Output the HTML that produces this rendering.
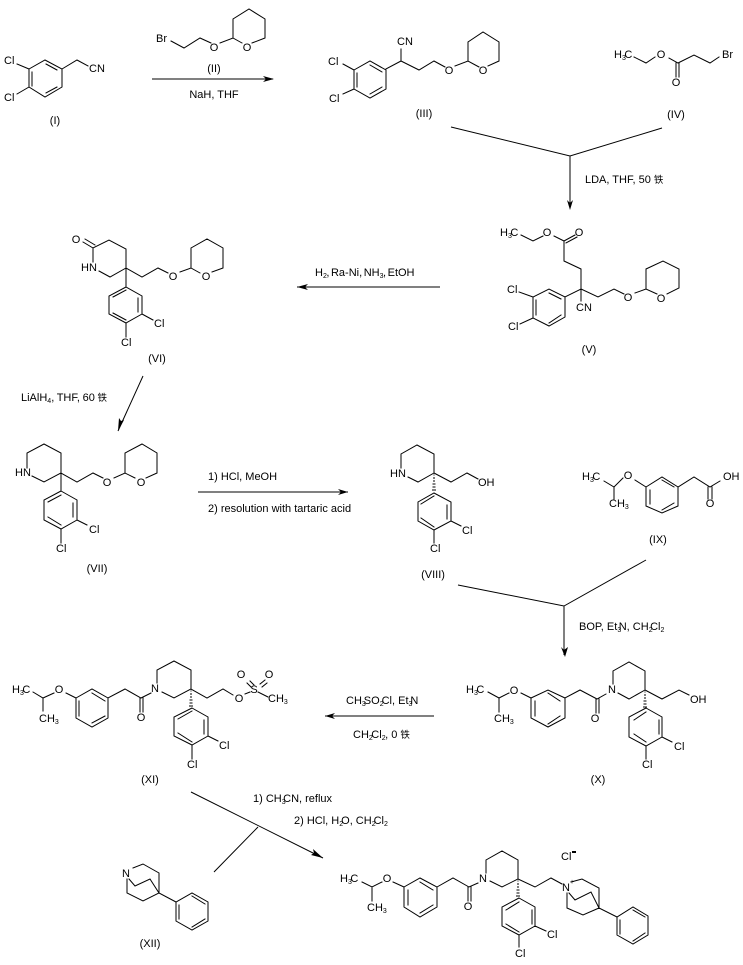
<!DOCTYPE html>
<html><head><meta charset="utf-8"><style>
html,body{margin:0;padding:0;background:#fff}
svg{display:block}
text{font-family:"Liberation Sans","Noto Sans CJK SC",sans-serif;font-size:11px;fill:#000}
.s{font-size:7px}
.c{font-size:9.5px}
</style></head><body>
<svg width="743" height="965" viewBox="0 0 743 965" xmlns="http://www.w3.org/2000/svg">
<rect width="743" height="965" fill="#fff"/>
<g fill="none" stroke="#000" stroke-width="1" stroke-linecap="square">
<!-- I -->
<path d="M29 69L45 60L62 69V87L45 97L29 87ZM32 72V86M46 64L57 70M46 93L57 87M17 64L29 69M17 94L29 87M62 69L77 60L88 66"/>
<!-- II -->
<path d="M171 41L184 48L200 38L211 43M220 43L233 38L242 43M252 43L265 38V19L249 9L233 19V38"/>
<!-- III -->
<path d="M354 70L370 61L386 70V89L370 98L354 89ZM357 73V87M370 65L382 72M370 94L382 87M343 64L354 70M343 94L354 89M386 69L401 61L419 70L434 61L445 67M401 49V61M455 66L468 61L479 67M488 66L499 61V42L483 32L468 42V61"/>
<!-- IV -->
<path d="M634 57L646 63L655 57M669 58L678 63L694 55L710 63L719 57M676 63V77M679 63V77"/>
<!-- V -->
<path d="M521 235L533 241L543 236M554 236L564 241L575 235M566 243L577 237M564 241V261L581 269V289M581 289L565 297L549 289L533 297V318L549 326L565 317V297M536 300V315M549 293L561 299M549 323L561 315M519 292L533 297M520 324L533 318M581 289V301M581 289L598 297L614 289L624 294M635 293L646 289L657 294M667 294L679 288V269L663 261L646 269V289"/>
<!-- VI -->
<path d="M83 242L93 248M85 239L95 245M93 248L109 240L126 249V268L110 277L99 271M93 248V262M126 268L142 277L158 268L168 273M180 272L191 268L200 273M212 272L223 268V248L207 239L191 248V268M126 268V287M126 287L142 296V314L126 323L109 314V296ZM138 298V312M126 290L113 297M126 320L113 313M142 314L153 320M126 323V337"/>
<!-- VII -->
<path d="M27 468V453L44 444L61 453V473L44 482L32 476M61 473L77 482L93 473L103 478M114 478L125 473L135 478M146 478L157 473V453L142 444L125 453V473M61 473V491M61 491L77 500V520L61 529L44 520V500ZM73 503V517M61 495L48 502M61 525L48 517M77 520L87 525M61 529V543"/>
<!-- VIII -->
<path d="M401 468V454L417 445L434 454V473L418 482L408 477M434 473L451 482L467 473L478 479M434 493L451 502V521L434 530L418 521V502ZM447 505V519M434 496L421 504M434 527L421 518M451 521L461 526M434 530V543"/>
<path stroke-linecap="butt" d="M433.5 475h1M433 478h2M433 481h2M432.5 484h3M432.5 487h3M432 490h4"/>
<!-- IX -->
<path d="M604 481L614 487L623 478M614 487V499M635 480L646 487M646 487L662 477L678 487V506L662 513L646 506ZM650 490V504M662 480L674 487M662 510L674 503M678 487L694 477L710 487L720 481M708 487V499M712 487V499"/>
<!-- X -->
<path d="M488 692L499 698L509 693M499 698V712M521 693L531 698M531 698L548 690L565 698V718L548 727L531 718ZM535 701V716M548 693L560 701M548 724L560 716M565 698L580 690L597 699L606 694M596 699V713M599 699V713M613 684V671L629 662L645 671V690L629 699L618 693M645 690L662 699L679 690L689 695M646 708L662 717V737L646 746L629 737V717ZM659 720V734M646 712L634 720M646 742L634 734M662 737L672 742M646 746V759"/>
<path stroke-linecap="butt" d="M644.5 692h1M644 695h2M644 698h2M643.5 701h3M643.5 704h3M643 707h4"/>
<!-- XI -->
<path d="M33 692L43 698L54 693M43 698V711M66 693L76 698M76 698L92 689L108 698V718L92 727L76 718ZM79 701V716M92 693L105 701M92 723L105 716M108 698L125 689L141 698L151 693M140 698V712M143 698V712M157 683V670L174 661L191 670V689L174 698L162 692M191 689L207 698L223 689L233 695M245 694L250 692M258 692L268 697M247 683L251 687M250 681L254 685M260 684L265 680M262 687L267 683M192 708L208 717V736L192 745L174 736V717ZM204 720V734M192 711L178 719M192 742L178 733M208 736L218 741M192 745V759"/>
<path stroke-linecap="butt" d="M190.5 691h1M190 694h2M190 697h2M189.5 700h3M189.5 703h3M189 706h4"/>
<!-- XII -->
<path d="M133 868L143 864L159 873V893L143 901L127 893V879M129 879L135 886L150 879L159 893L176 902L192 893L208 902V921L192 930L176 921V902M179 905V919M192 896L205 904M192 927L205 919"/>
<!-- Final -->
<path d="M362 882L372 887L382 882M372 887V901M393 882L404 887M404 887L420 878L437 887V907L420 917L404 907ZM408 890V905M420 882L433 890M420 913L433 905M437 887L453 878L469 887L478 883M468 887V901M471 887V901M486 873V860L502 851L518 860V879L502 887L490 881M518 879L535 887L551 878L562 884M571 882L582 879L599 888V908L583 915L567 908V893M569 893L575 900L591 892L599 908L617 917L633 907L648 916V935L633 944L617 935V917M620 920V934M633 910L645 917M633 941L645 933M519 898L535 907V926L519 935L502 926V907ZM532 910V924M519 902L506 910M519 932L506 924M535 926L546 931M519 935V947"/>
<path stroke-linecap="butt" d="M517.5 881h1M517 884h2M517 887h2M516.5 890h3M516.5 893h3M516 896h4"/>
<!-- Arrows -->
<path stroke-linecap="butt" d="M152 79H273M451 127L570 156L662 128M570 156V208M440 287H297M143 376L118 431M198 492H348M458 585L564 606L646 560M564 606V655M434 716H325M191 792L323 858M258 827L214 872"/>
</g>
<g fill="#000">
<path d="M263 76L274 79L263 82L266 79Z"/>
<path d="M567 200L570 210L573 200L570 203Z"/>
<path d="M308 284L297 287L308 290L305 287Z"/>
<path d="M124 420L118 431L119 418L121 421Z"/>
<path d="M338 489L348 492L338 495L341 492Z"/>
<path d="M561 647L565 657L568 647L564 650Z"/>
<path d="M335 713L325 716L335 719L332 716Z"/>
<path d="M313 849L323 858L311 855L314 853Z"/>
<rect x="572" y="851" width="4" height="2"/>
</g>
<!-- I -->
<text x="4" y="64">Cl</text><text x="4" y="101">Cl</text><text x="89" y="72">CN</text><text x="55" y="124" text-anchor="middle">(I)</text>
<!-- II -->
<text x="156" y="42">Br</text><text x="214" y="51" text-anchor="middle">O</text><text x="247" y="51" text-anchor="middle">O</text><text x="214" y="72" text-anchor="middle">(II)</text>
<text x="214" y="98" text-anchor="middle">NaH, THF</text>
<!-- III -->
<text x="328" y="65">Cl</text><text x="329" y="102">Cl</text><text x="397" y="45">CN</text><text x="449" y="74" text-anchor="middle">O</text><text x="483" y="74" text-anchor="middle">O</text><text x="424" y="117" text-anchor="middle">(III)</text>
<!-- IV -->
<text x="614" y="58">H<tspan class="s" dy="2">3</tspan><tspan dy="-2" dx="-1.5">C</tspan></text><text x="661" y="58" text-anchor="middle">O</text><text x="722" y="58">Br</text><text x="676" y="86" text-anchor="middle">O</text><text x="676" y="118" text-anchor="middle">(IV)</text>
<text x="585" y="183">LDA, THF, 50 <tspan class="c">铁</tspan></text>
<!-- V -->
<text x="500" y="236">H<tspan class="s" dy="2">3</tspan><tspan dy="-2" dx="-1.5">C</tspan></text><text x="547" y="236" text-anchor="middle">O</text><text x="579" y="236" text-anchor="middle">O</text><text x="507" y="293">Cl</text><text x="508" y="330">Cl</text><text x="576" y="311">CN</text><text x="628" y="301" text-anchor="middle">O</text><text x="661" y="302" text-anchor="middle">O</text><text x="589" y="353" text-anchor="middle">(V)</text>
<text x="315" y="276" word-spacing="-1.5">H<tspan class="s" dy="2">2</tspan><tspan dy="-2" dx="-0.5">, Ra-Ni, NH</tspan><tspan class="s" dy="2">3</tspan><tspan dy="-2" dx="-0.5">, EtOH</tspan></text>
<!-- VI -->
<text x="76" y="243" text-anchor="middle">O</text><text x="81" y="271">HN</text><text x="173" y="280" text-anchor="middle">O</text><text x="206" y="280" text-anchor="middle">O</text><text x="154" y="327">Cl</text><text x="121" y="346">Cl</text><text x="157" y="362" text-anchor="middle">(VI)</text>
<text x="21" y="401" word-spacing="-0.4">LiAlH<tspan class="s" dy="2">4</tspan><tspan dy="-2">, THF, 60 </tspan><tspan class="c">铁</tspan></text>
<!-- VII -->
<text x="15" y="476">HN</text><text x="107" y="486" text-anchor="middle">O</text><text x="141" y="486" text-anchor="middle">O</text><text x="89" y="533">Cl</text><text x="56" y="552">Cl</text><text x="97" y="572" text-anchor="middle">(VII)</text>
<text x="208" y="480">1) HCl, MeOH</text><text x="208" y="512">2) resolution with tartaric acid</text>
<!-- VIII -->
<text x="390" y="477">HN</text><text x="478" y="486">OH</text><text x="462" y="534">Cl</text><text x="430" y="552">Cl</text><text x="433" y="578" text-anchor="middle">(VIII)</text>
<!-- IX -->
<text x="582" y="480">H<tspan class="s" dy="2">3</tspan><tspan dy="-2" dx="-1.5">C</tspan></text><text x="628" y="479" text-anchor="middle">O</text><text x="609" y="507">CH<tspan class="s" dy="2">3</tspan></text><text x="723" y="480">OH</text><text x="710" y="507" text-anchor="middle">O</text><text x="658" y="543" text-anchor="middle">(IX)</text>
<text x="579" y="630">BOP, Et<tspan class="s" dy="2">3</tspan><tspan dy="-2" dx="-2.5">N, CH</tspan><tspan class="s" dy="2">2</tspan><tspan dy="-2" dx="-2.5">Cl</tspan><tspan class="s" dy="2">2</tspan></text>
<!-- X -->
<text x="466" y="693">H<tspan class="s" dy="2">3</tspan><tspan dy="-2" dx="-1.5">C</tspan></text><text x="514" y="694" text-anchor="middle">O</text><text x="494" y="722">CH<tspan class="s" dy="2">3</tspan></text><text x="612" y="693" text-anchor="middle">N</text><text x="595" y="722" text-anchor="middle">O</text><text x="690" y="703">OH</text><text x="674" y="750">Cl</text><text x="642" y="768">Cl</text><text x="598" y="783" text-anchor="middle">(X)</text>
<text x="346" y="704">CH<tspan class="s" dy="2">3</tspan><tspan dy="-2" dx="-2">SO</tspan><tspan class="s" dy="2">2</tspan><tspan dy="-2" dx="-2">Cl, Et</tspan><tspan class="s" dy="2">3</tspan><tspan dy="-2" dx="-2">N</tspan></text>
<text x="353" y="738">CH<tspan class="s" dy="2">2</tspan><tspan dy="-2" dx="-1.5">Cl</tspan><tspan class="s" dy="2">2</tspan><tspan dy="-2" dx="-0.5">, 0 </tspan><tspan class="c">铁</tspan></text>
<!-- XI -->
<text x="12" y="693">H<tspan class="s" dy="2">3</tspan><tspan dy="-2" dx="-1.5">C</tspan></text><text x="59" y="693" text-anchor="middle">O</text><text x="39" y="722">CH<tspan class="s" dy="2">3</tspan></text><text x="155" y="692" text-anchor="middle">N</text><text x="141" y="721" text-anchor="middle">O</text><text x="239" y="702" text-anchor="middle">O</text><text x="254" y="693" text-anchor="middle">S</text><text x="241" y="678" text-anchor="middle">O</text><text x="269" y="678" text-anchor="middle">O</text><text x="268" y="702">CH<tspan class="s" dy="2">3</tspan></text><text x="219" y="749">Cl</text><text x="187" y="768">Cl</text><text x="150" y="783" text-anchor="middle">(XI)</text>
<text x="253" y="802">1) CH<tspan class="s" dy="2">3</tspan><tspan dy="-2" dx="-2.5">CN, reflux</tspan></text>
<text x="294" y="824">2) HCl, H<tspan class="s" dy="2">2</tspan><tspan dy="-2" dx="-2">O, CH</tspan><tspan class="s" dy="2">2</tspan><tspan dy="-2" dx="-2">Cl</tspan><tspan class="s" dy="2">2</tspan></text>
<!-- XII -->
<text x="126" y="877" text-anchor="middle">N</text><text x="150" y="947" text-anchor="middle">(XII)</text>
<!-- Final -->
<text x="340" y="882">H<tspan class="s" dy="2">3</tspan><tspan dy="-2" dx="-1.5">C</tspan></text><text x="387" y="882" text-anchor="middle">O</text><text x="367" y="911">CH<tspan class="s" dy="2">3</tspan></text><text x="483" y="882" text-anchor="middle">N</text><text x="468" y="910" text-anchor="middle">O</text><text x="566" y="891" text-anchor="middle">N</text><text x="572" y="884" text-anchor="middle" class="s">+</text><text x="561" y="860">Cl</text><text x="547" y="938">Cl</text><text x="515" y="957">Cl</text>
</svg>
</body></html>
